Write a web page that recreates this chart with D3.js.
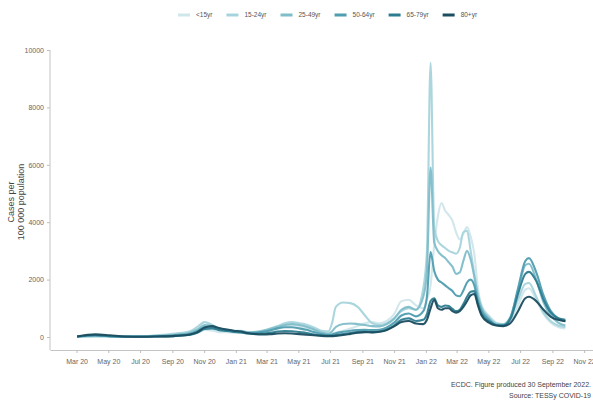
<!DOCTYPE html>
<html>
<head>
<meta charset="utf-8">
<script src="https://cdn.jsdelivr.net/npm/d3@7"></script>
<style>
  body { margin: 0; background: #fff; }
  text { font-family: "Liberation Sans", Arial, sans-serif; }
</style>
</head>
<body>
<div id="chart"></div>
<script>
// Weekly-ish reporting dates
const dates = [
  "2020-03-02","2020-04-06","2020-05-04","2020-06-01","2020-07-06","2020-08-03","2020-09-07",
  "2020-10-05","2020-10-19","2020-11-02","2020-11-16","2020-11-30","2020-12-14","2020-12-28",
  "2021-01-11","2021-01-25","2021-02-08","2021-02-22","2021-03-08","2021-03-22","2021-04-05",
  "2021-04-19","2021-05-03","2021-05-17","2021-05-31","2021-06-14","2021-06-28","2021-07-05",
  "2021-07-12","2021-07-26","2021-08-09","2021-08-23","2021-09-06","2021-09-20","2021-10-04",
  "2021-10-18","2021-11-01","2021-11-15","2021-11-29","2021-12-13","2021-12-27","2022-01-03",
  "2022-01-10","2022-01-17","2022-01-24","2022-01-31","2022-02-07","2022-02-14","2022-02-21",
  "2022-02-28","2022-03-07","2022-03-14","2022-03-21","2022-03-28","2022-04-04","2022-04-11",
  "2022-04-18","2022-05-02","2022-05-16","2022-05-30","2022-06-13","2022-06-27","2022-07-11",
  "2022-07-18","2022-08-01","2022-08-15","2022-08-29","2022-09-12","2022-09-26"
];

const ageGroups = ["<15yr", "15-24yr", "25-49yr", "50-64yr", "65-79yr", "80+yr"];

// cases per 100 000 population
const under15 = [0,5,5,5,10,20,40,80,150,250,230,170,170,150,150,120,130,180,260,350,400,
  420,380,330,250,150,100,120,150,220,300,380,480,520,480,560,800,1250,1300,1100,1000,1300,
  1800,3200,4200,4670,4400,4250,4050,3650,3400,3600,3830,3500,2900,1700,1100,750,500,420,
  600,1100,1650,1700,1300,800,500,350,300];
const age15to24 = [5,30,20,15,25,60,120,200,350,520,430,290,260,220,220,170,180,230,300,380,480,
  520,480,430,330,220,200,500,1050,1200,1180,1050,750,480,420,480,650,900,1000,950,1700,3000,
  9550,3800,3350,3200,3100,3000,2950,2900,3100,3650,3700,3000,2200,1500,1050,700,480,450,
  700,1300,1850,1880,1400,850,550,400,350];
const age25to49 = [10,50,30,15,20,40,80,150,260,420,380,270,250,210,200,160,170,210,280,350,420,
  450,420,360,260,160,120,200,350,450,470,450,420,380,370,450,640,950,1050,950,1400,2300,
  5900,3300,3000,2850,2750,2600,2450,2200,2250,2650,3000,2700,2100,1400,1000,650,450,430,
  720,1600,2500,2550,2000,1200,750,500,400];
const age50to64 = [15,60,30,15,15,30,60,110,200,350,340,250,230,190,180,140,150,180,230,300,340,
  340,300,250,170,100,70,90,130,180,220,240,250,240,250,330,500,750,820,720,900,1400,
  2960,2300,2000,1900,1800,1700,1600,1450,1420,1620,1900,2000,1800,1250,900,600,420,420,
  700,1700,2650,2750,2250,1450,900,650,550];
const age65to79 = [15,60,30,10,10,20,40,80,150,280,300,240,210,180,160,120,110,120,150,190,210,
  200,170,140,90,60,40,50,70,100,140,170,180,170,190,260,400,600,650,560,600,800,
  1250,1350,1100,1050,1100,1080,980,900,950,1150,1400,1580,1600,1150,800,550,420,400,
  650,1500,2200,2270,1950,1300,850,650,600];
const age80plus = [20,90,60,20,10,20,40,90,170,330,380,310,260,220,190,130,100,90,100,120,130,
  120,100,80,60,40,30,30,40,70,110,150,170,160,180,240,370,520,560,470,450,600,
  1000,1300,1000,950,1000,1000,900,850,900,1050,1250,1450,1500,1100,750,500,400,380,
  500,900,1350,1400,1250,950,700,600,550];

const yTicks = [0, 2000, 4000, 6000, 8000, 10000];

const colors = ["#cfe6eb", "#a6d4dc", "#7fbdc9", "#4f9db0", "#2d7c90", "#1a4d5f"];

const width = 593, height = 416;
const parse = d3.timeParse("%Y-%m-%d");
const dateObjs = dates.map(parse);

const series = [under15, age15to24, age25to49, age50to64, age65to79, age80plus].map((vals, i) => ({
  name: ageGroups[i],
  color: colors[i],
  values: vals.map((v, j) => ({ date: dateObjs[j], value: v }))
}));

const svg = d3.select("#chart").append("svg")
  .attr("width", width)
  .attr("height", height);

// scales
const x = d3.scaleTime()
  .domain([new Date(2020, 0, 10), new Date(2022, 10, 18)])
  .range([50, 593]);
const y = d3.scaleLinear()
  .domain([0, 10000])
  .range([337, 50]);

const axisY = 350;

// x axis
const gx = svg.append("g")
  .attr("transform", `translate(0,${axisY})`)
  .call(d3.axisBottom(x)
    .ticks(d3.timeMonth.every(2))
    .tickFormat(d3.timeFormat("%b %y"))
    .tickSize(3)
    .tickSizeOuter(0)
    .tickPadding(6));
gx.select(".domain").attr("stroke", "#c4c4c4");
gx.selectAll(".tick line").attr("stroke", "#bdbdbd");
gx.selectAll(".tick text")
  .attr("fill", "#666")
  .style("font-size", "7px")
  .style("font-family", "'Liberation Sans', Arial, sans-serif");

// y axis
const gy = svg.append("g")
  .attr("transform", "translate(50,0)")
  .call(d3.axisLeft(y).tickValues(yTicks).tickFormat(d3.format("d")).tickSize(3).tickPadding(3));
gy.select(".domain").remove();
gy.selectAll(".tick line").attr("stroke", "#bdbdbd");
gy.selectAll(".tick text")
  .attr("fill", "#666")
  .style("font-size", "7px")
  .style("font-family", "'Liberation Sans', Arial, sans-serif");
svg.append("line")
  .attr("x1", 50).attr("x2", 50)
  .attr("y1", y(10000)).attr("y2", axisY)
  .attr("stroke", "#c4c4c4");

// y title
const yt = svg.append("text")
  .attr("transform", `translate(16,${(y(10000) + axisY) / 2 + 2}) rotate(-90)`)
  .attr("text-anchor", "middle")
  .style("font-size", "9px")
  .attr("fill", "#444");
yt.append("tspan").attr("x", 0).attr("dy", "-0.25em").text("Cases per");
yt.append("tspan").attr("x", 0).attr("dy", "1.1em").text("100 000 population");

// lines
const line = d3.line()
  .x(d => x(d.date))
  .y(d => y(d.value))
  .curve(d3.curveMonotoneX);

svg.append("g").selectAll("path")
  .data(series)
  .join("path")
  .attr("d", d => line(d.values))
  .attr("fill", "none")
  .attr("stroke", d => d.color)
  .attr("stroke-width", 2.1)
  .attr("stroke-linejoin", "round")
  .attr("stroke-opacity", 0.95);

// legend
const legend = svg.append("g");
let cx = 178;
series.forEach(s => {
  const g = legend.append("g").attr("transform", `translate(${cx},15)`);
  g.append("line")
    .attr("x1", 0).attr("x2", 12)
    .attr("stroke", s.color).attr("stroke-width", 3);
  const t = g.append("text")
    .attr("x", 18).attr("dy", "0.35em")
    .style("font-size", "6.5px")
    .attr("fill", "#555")
    .text(s.name);
  cx += 18 + t.node().getComputedTextLength() + 14;
});

// caption
svg.append("text")
  .attr("x", 591).attr("y", 387)
  .attr("text-anchor", "end")
  .style("font-size", "7px")
  .attr("fill", "#444")
  .text("ECDC. Figure produced 30 September 2022.");
svg.append("text")
  .attr("x", 591).attr("y", 398)
  .attr("text-anchor", "end")
  .style("font-size", "7px")
  .attr("fill", "#444")
  .text("Source: TESSy COVID-19");
</script>
</body>
</html>
